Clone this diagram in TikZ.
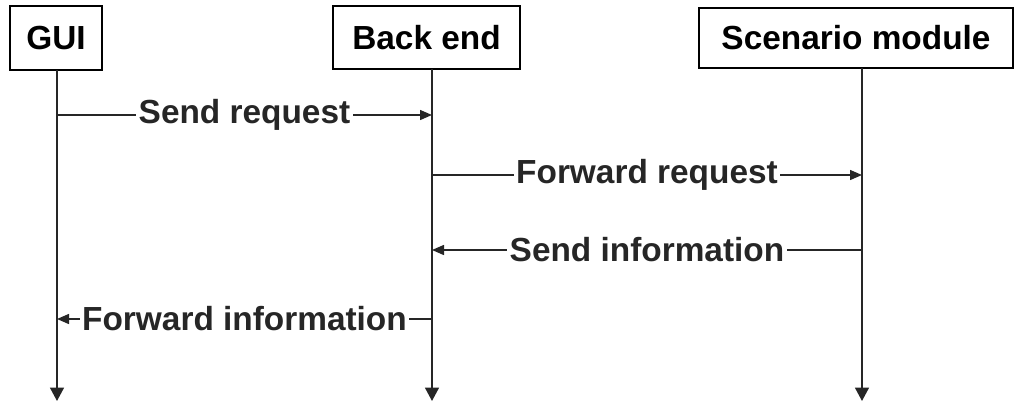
\documentclass[tikz,border=0pt]{standalone}
\usepackage{fontspec}
\setmainfont{Liberation Sans}
\usepackage{tikz}
\usetikzlibrary{arrows.meta}

\tikzset{
    actor/.style={draw, line width=1pt, inner sep=0pt, font=\fontsize{19}{22}\selectfont\bfseries},
    lifeline/.style={line width=1pt, black!85, -{Triangle[length=0.27cm, width=0.28cm]}},
    msg/.style={line width=0.8pt, black!85, -{Triangle[length=0.24cm, width=0.2cm]}},
    msglabel/.style={fill=white, inner xsep=1.5pt, inner ysep=1pt, font=\fontsize{19}{22}\selectfont\bfseries}
}

\begin{document}
\begin{tikzpicture}
    \useasboundingbox (0,0) rectangle (20.28,8.04);

    % Draw the three participants
    \node[actor, minimum width=1.84cm, minimum height=1.28cm] (gui) at (1.12,7.28) {GUI};
    \node[actor, minimum width=3.74cm, minimum height=1.26cm] (backend) at (8.53,7.29) {Back end};
    \node[actor, minimum width=6.28cm, minimum height=1.20cm] (scenario) at (17.12,7.28) {Scenario module};

    % Define coordinates for the lifelines
    \coordinate (guiTop) at (1.14,6.64);
    \coordinate (guiBot) at (1.14,0.02);
    \coordinate (backTop) at (8.64,6.66);
    \coordinate (backBot) at (8.64,0.02);
    \coordinate (scenTop) at (17.24,6.68);
    \coordinate (scenBot) at (17.24,0.02);

    \draw[lifeline] (guiTop) -- (guiBot);
    \draw[lifeline] (backTop) -- (backBot);
    \draw[lifeline] (scenTop) -- (scenBot);

    % Define coordinates for the message ends
    \coordinate (gui1) at (1.14,5.74);
    \coordinate (back1) at (8.64,5.74);
    \coordinate (back2) at (8.64,4.54);
    \coordinate (scen2) at (17.24,4.54);
    \coordinate (scen3) at (17.24,3.04);
    \coordinate (back3) at (8.64,3.04);
    \coordinate (back4) at (8.64,1.66);
    \coordinate (gui4) at (1.14,1.66);

    % Connect the lifelines with the messages
    \draw[msg] (gui1) -- node[msglabel] {Send request} (back1);
    \draw[msg] (back2) -- node[msglabel] {Forward request} (scen2);
    \draw[msg] (scen3) -- node[msglabel] {Send information} (back3);
    \draw[msg] (back4) -- node[msglabel] {Forward information} (gui4);
\end{tikzpicture}
\end{document}
